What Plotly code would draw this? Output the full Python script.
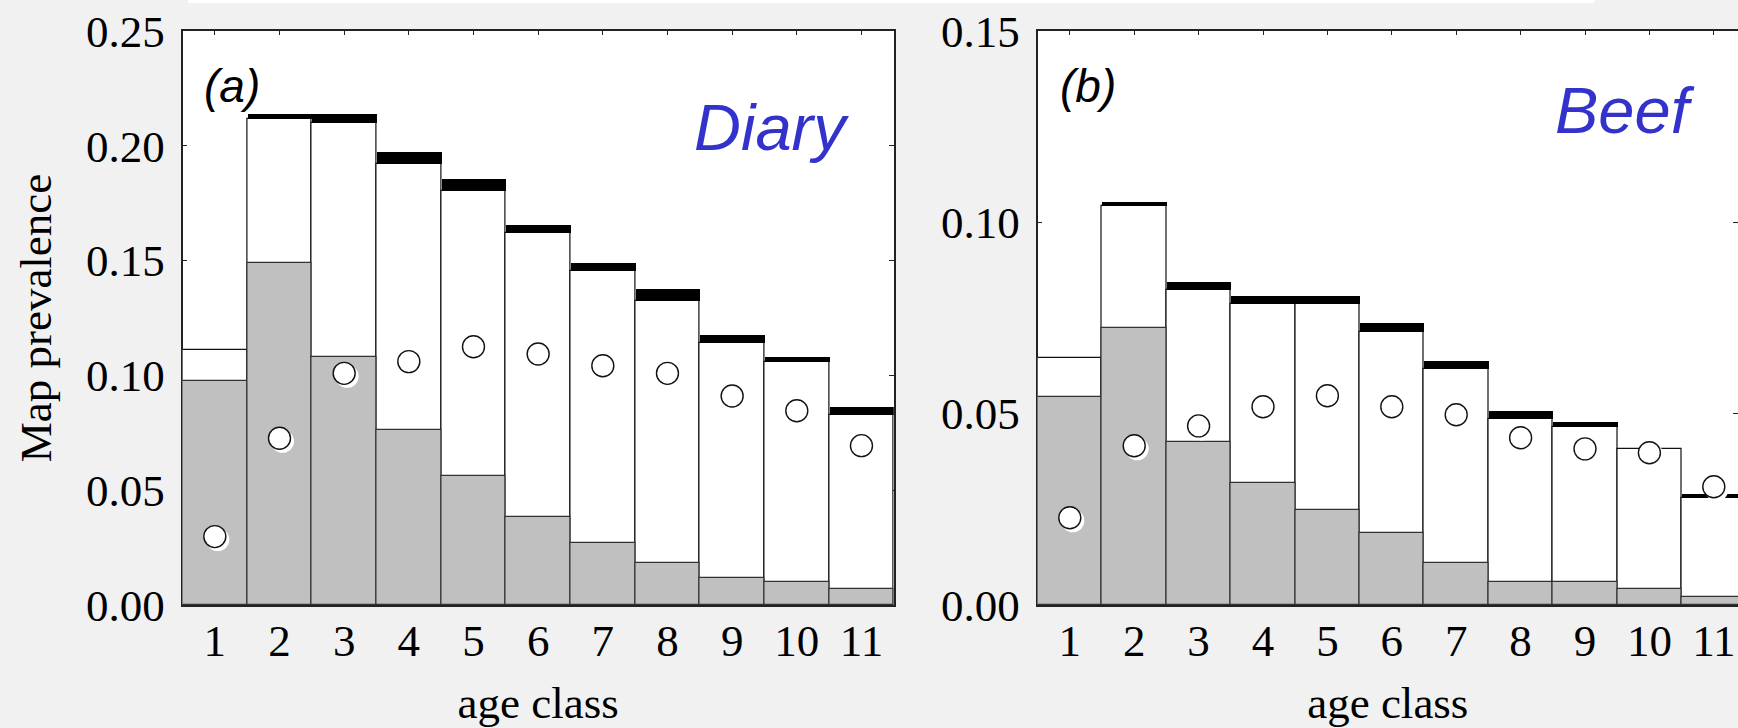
import plotly.graph_objects as go

# ---------------- data ----------------
age = list(range(1, 12))
age_labels = [str(a) for a in age]

dairy_gray = [0.0977, 0.1490, 0.1079, 0.0762, 0.0563, 0.0382, 0.0269, 0.0183, 0.0116, 0.0100, 0.0068]
dairy_white = [0.1109, 0.2118, 0.2101, 0.1919, 0.1804, 0.1620, 0.1456, 0.1324, 0.1142, 0.1058, 0.0826]
dairy_black = [0.1109, 0.2139, 0.2139, 0.1973, 0.1855, 0.1656, 0.1491, 0.1376, 0.1177, 0.1080, 0.0861]
dairy_obs = [0.0298, 0.0726, 0.1009, 0.1060, 0.1125, 0.1093, 0.1042, 0.1009, 0.0910, 0.0846, 0.0694]

beef_gray = [0.0544, 0.0725, 0.0427, 0.0318, 0.0247, 0.0189, 0.0109, 0.0059, 0.0059, 0.0041, 0.0020]
beef_white = [0.0646, 0.1044, 0.0824, 0.0786, 0.0786, 0.0714, 0.0616, 0.0487, 0.0466, 0.0407, 0.0279]
beef_black = [0.0646, 0.1054, 0.0845, 0.0807, 0.0807, 0.0736, 0.0638, 0.0507, 0.0478, 0.0407, 0.0290]
beef_obs = [0.0228, 0.0416, 0.0468, 0.0518, 0.0547, 0.0518, 0.0497, 0.0437, 0.0408, 0.0398, 0.0309]

y_ticks_a = [0.00, 0.05, 0.10, 0.15, 0.20, 0.25]
y_ticks_b = [0.00, 0.05, 0.10, 0.15]

# ---------------- layout geometry (pixels) ----------------
W, H = 1738, 728
BG = "#f1f1f1"
SERIF = "Liberation Serif"
SANS = "Liberation Sans"
TICKFONT = dict(family=SERIF, size=45, color="black")

pa_left, pa_right = 182.5, 893.8
pb_left, pb_right = 1037.6, 1738.0
p_top, p_bottom = 31.0, 605.0
bar_px_b = 64.4

def fx(px):
    return px / W

def fy(py):
    return 1 - py / H

xr_a = [0.5, 11.5]
xr_b = [0.5, 0.5 + (pb_right - pb_left) / bar_px_b]
yr_a = [0, 0.25]
yr_b = [0, 0.15]

# shadow offset (px): right and down
sh_dx, sh_dy = 3.0, 3.0

def shifted(xr, yr, w_px, h_px):
    ux = (xr[1] - xr[0]) / w_px
    uy = (yr[1] - yr[0]) / h_px
    return ([xr[0] - sh_dx * ux, xr[1] - sh_dx * ux],
            [yr[0] + sh_dy * uy, yr[1] + sh_dy * uy])

sxr_a, syr_a = shifted(xr_a, yr_a, pa_right - pa_left, p_bottom - p_top)
sxr_b, syr_b = shifted(xr_b, yr_b, pb_right - pb_left, p_bottom - p_top)

fig = go.Figure()

def add_panel(xa, ya, xs, ys, xc, yc, gray, white, black, obs):
    caps = [b - w for b, w in zip(black, white)]
    fig.add_trace(go.Bar(x=age, y=white, width=1, xaxis=xa, yaxis=ya,
                         marker=dict(color="white", line=dict(color="#111", width=1.2)),
                         showlegend=False, hoverinfo="skip"))
    fig.add_trace(go.Bar(x=age, y=gray, width=1, xaxis=xa, yaxis=ya,
                         marker=dict(color="#c0c0c0", line=dict(color="#333", width=1.2)),
                         showlegend=False, hoverinfo="skip"))
    fig.add_trace(go.Bar(x=age, y=caps, base=white, width=1, xaxis=xa, yaxis=ya,
                         marker=dict(color="black", line=dict(width=0)),
                         showlegend=False, hoverinfo="skip"))
    fig.add_trace(go.Scatter(x=age, y=obs, mode="markers", xaxis=xs, yaxis=ys,
                             marker=dict(size=23, color="white", line=dict(width=0)),
                             showlegend=False, hoverinfo="skip", cliponaxis=False))
    fig.add_trace(go.Scatter(x=age, y=obs, mode="markers", xaxis=xc, yaxis=yc,
                             marker=dict(size=22, color="white", line=dict(color="#111", width=1.4)),
                             showlegend=False, hoverinfo="skip", cliponaxis=False))

add_panel("x", "y", "x3", "y3", "x5", "y5", dairy_gray, dairy_white, dairy_black, dairy_obs)
add_panel("x2", "y2", "x4", "y4", "x6", "y6", beef_gray, beef_white, beef_black, beef_obs)

common_x = dict(tickvals=age, ticktext=age_labels, ticks="inside", ticklen=4, tickwidth=1,
                tickcolor="#222", showline=True, linecolor="#222", linewidth=1.5, mirror="ticks",
                showgrid=False, zeroline=False, tickfont=TICKFONT, layer="below traces",
                ticklabelstandoff=-5, automargin=False,
                title=dict(text="age class", font=dict(family=SERIF, size=45, color="black"), standoff=27))
common_y = dict(ticks="inside", ticklen=5, tickwidth=1, tickcolor="#222", showline=True,
                linecolor="#222", linewidth=1.5, mirror="ticks", showgrid=False, zeroline=False,
                tickfont=TICKFONT, tickformat=".2f", layer="below traces", ticklabelstandoff=7,
                automargin=False)
hidden = dict(visible=False, showgrid=False, zeroline=False)

fig.update_layout(
    width=W, height=H,
    margin=dict(l=0, r=0, t=0, b=0, autoexpand=False),
    paper_bgcolor=BG, plot_bgcolor="white",
    barmode="overlay", bargap=0,
    xaxis=dict(domain=[fx(pa_left), fx(pa_right)], range=xr_a, anchor="y", **common_x),
    yaxis=dict(domain=[fy(p_bottom), fy(p_top)], range=yr_a, anchor="x", tickvals=y_ticks_a,
               title=dict(text="Map prevalence", font=dict(family=SERIF, size=45, color="black"),
                          standoff=20), **common_y),
    xaxis2=dict(domain=[fx(pb_left), fx(pb_right)], range=xr_b, anchor="y2", **common_x),
    yaxis2=dict(domain=[fy(p_bottom), fy(p_top)], range=yr_b, anchor="x2", tickvals=y_ticks_b,
                **common_y),
    xaxis3=dict(overlaying="x", range=sxr_a, anchor="y3", **hidden),
    yaxis3=dict(overlaying="y", range=syr_a, anchor="x3", **hidden),
    xaxis4=dict(overlaying="x2", range=sxr_b, anchor="y4", **hidden),
    yaxis4=dict(overlaying="y2", range=syr_b, anchor="x4", **hidden),
    xaxis5=dict(overlaying="x", range=xr_a, anchor="y5", **hidden),
    yaxis5=dict(overlaying="y", range=yr_a, anchor="x5", **hidden),
    xaxis6=dict(overlaying="x2", range=xr_b, anchor="y6", **hidden),
    yaxis6=dict(overlaying="y2", range=yr_b, anchor="x6", **hidden),
)

# white strip at the very top of the page
fig.add_shape(type="rect", xref="paper", yref="paper", x0=fx(188), x1=fx(1594), y0=fy(3), y1=1,
              fillcolor="white", line=dict(width=0), layer="below")

ann = [
    dict(text="<i>(a)</i>", x=fx(232), y=fy(86), size=46, color="black"),
    dict(text="<i>(b)</i>", x=fx(1088), y=fy(86), size=46, color="black"),
    dict(text="<i>Diary</i>", x=fx(771), y=fy(127), size=65, color="#3333cc"),
    dict(text="<i>Beef</i>", x=fx(1625), y=fy(110), size=65, color="#3333cc"),
]
for a in ann:
    fig.add_annotation(text=a["text"], x=a["x"], y=a["y"], xref="paper", yref="paper",
                       xanchor="center", yanchor="middle", showarrow=False,
                       font=dict(family=SANS, size=a["size"], color=a["color"]))

fig.write_html("out.html")
